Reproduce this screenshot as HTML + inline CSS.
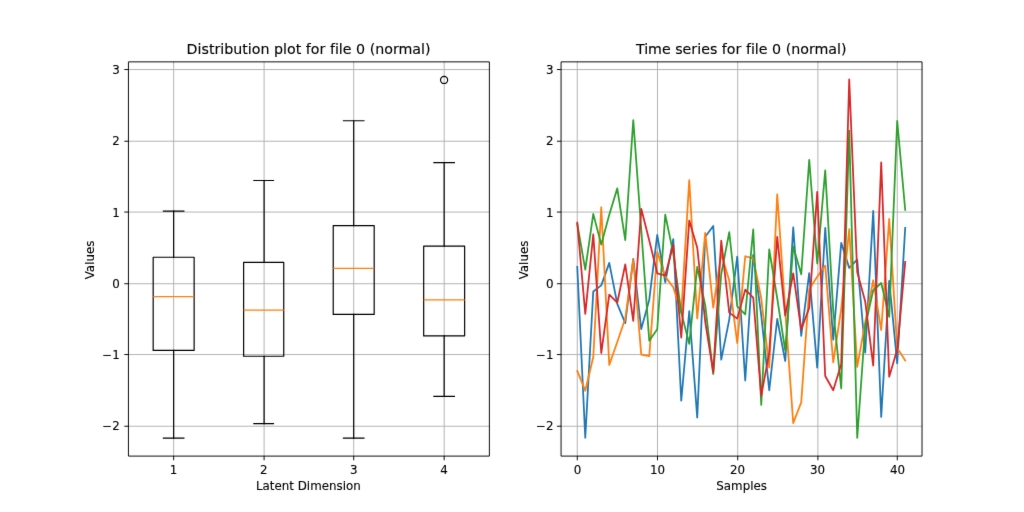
<!DOCTYPE html>
<html lang="en"><head><meta charset="utf-8"><title>Distribution plot and time series for file 0 (normal)</title>
<style>html,body{margin:0;padding:0;background:#ffffff;}body{width:1024px;height:512px;overflow:hidden;}svg{display:block;}text{stroke:#000;stroke-width:0.1px;font-variant-ligatures:none;font-feature-settings:'liga' 0,'clig' 0;white-space:pre;}</style>
</head><body>
<svg width="1024" height="512" viewBox="0 0 864 432" font-family="'DejaVu Sans','Liberation Sans',sans-serif" fill="#000000">
<filter id="soft" x="0" y="0" width="864" height="432" filterUnits="userSpaceOnUse" color-interpolation-filters="sRGB"><feConvolveMatrix order="3" kernelMatrix="0.00524 0.06192 0.00524 0.06192 0.73137 0.06192 0.00524 0.06192 0.00524" edgeMode="duplicate" preserveAlpha="true"/></filter>
<g filter="url(#soft)">
<rect x="0" y="0" width="864" height="432" fill="#ffffff"/>
<clipPath id="c1"><rect x="108" y="51.84" width="304.364" height="332.64"/></clipPath>
<clipPath id="c2"><rect x="473.236" y="51.84" width="304.364" height="332.64"/></clipPath>
<g fill="none" stroke="#b0b0b0" stroke-width="0.8" stroke-linecap="square">
<path d="M146.52 384.84L146.52 52.2"/>
<path d="M222.84 384.84L222.84 52.2"/>
<path d="M298.44 384.84L298.44 52.2"/>
<path d="M374.76 384.84L374.76 52.2"/>
<path d="M108.36 359.64L412.92 359.64"/>
<path d="M108.36 299.16L412.92 299.16"/>
<path d="M108.36 239.4L412.92 239.4"/>
<path d="M108.36 178.92L412.92 178.92"/>
<path d="M108.36 119.16L412.92 119.16"/>
<path d="M108.36 58.68L412.92 58.68"/>
</g>
<g clip-path="url(#c1)" fill="none" stroke="#000000" stroke-width="1" stroke-linecap="square" stroke-linejoin="round">
<path d="M129.24 295.56H163.8V217.08H129.24V295.56"/>
<path d="M146.52 295.56V369.72M146.52 217.08V178.2"/>
<path d="M137.88 369.72H155.16M137.88 178.2H155.16"/>
<path d="M129.24 250.2H163.8" stroke="#ff7f0e" stroke-linecap="butt"/>
<path d="M205.56 300.6H239.4V221.4H205.56V300.6"/>
<path d="M222.84 300.6V357.48M222.84 221.4V152.28"/>
<path d="M214.2 357.48H230.76M214.2 152.28H230.76"/>
<path d="M205.56 261.72H239.4" stroke="#ff7f0e" stroke-linecap="butt"/>
<path d="M281.16 265.32H315.72V190.44H281.16V265.32"/>
<path d="M298.44 265.32V369.72M298.44 190.44V101.88"/>
<path d="M289.8 369.72H307.08M289.8 101.88H307.08"/>
<path d="M281.16 226.44H315.72" stroke="#ff7f0e" stroke-linecap="butt"/>
<path d="M357.48 283.32H392.04V207.72H357.48V283.32"/>
<path d="M374.76 283.32V334.44M374.76 207.72V137.16"/>
<path d="M366.12 334.44H383.4M366.12 137.16H383.4"/>
<path d="M357.48 253.08H392.04" stroke="#ff7f0e" stroke-linecap="butt"/>
<circle cx="374.698" cy="67.46" r="3"/>
</g>
<g fill="none" stroke="#000000" stroke-width="0.8">
<path d="M146.52 384.84v3.5"/>
<path d="M222.84 384.84v3.5"/>
<path d="M298.44 384.84v3.5"/>
<path d="M374.76 384.84v3.5"/>
<path d="M108.36 359.64h-3.5"/>
<path d="M108.36 299.16h-3.5"/>
<path d="M108.36 239.4h-3.5"/>
<path d="M108.36 178.92h-3.5"/>
<path d="M108.36 119.16h-3.5"/>
<path d="M108.36 58.68h-3.5"/>
<path d="M108.36 52.2H412.92V384.84H108.36Z" stroke-linejoin="miter"/>
</g>
<text x="146.383" y="399.838" font-size="10" text-anchor="middle">1</text>
<text x="222.474" y="399.838" font-size="10" text-anchor="middle">2</text>
<text x="298.565" y="399.838" font-size="10" text-anchor="middle">3</text>
<text x="374.656" y="399.838" font-size="10" text-anchor="middle">4</text>
<text x="101" y="363.155" font-size="10" text-anchor="end">−2</text>
<text x="101" y="303" font-size="10" text-anchor="end">−1</text>
<text x="101" y="242.845" font-size="10" text-anchor="end">0</text>
<text x="101" y="182.69" font-size="10" text-anchor="end">1</text>
<text x="101" y="122.535" font-size="10" text-anchor="end">2</text>
<text x="101" y="62.38" font-size="10" text-anchor="end">3</text>
<text x="260.182" y="413.389" font-size="10" text-anchor="middle">Latent Dimension</text>
<text x="260.351" y="45.967" font-size="12" text-anchor="middle">Distribution plot for file 0 (normal)</text>
<text x="79.334" y="219.341" font-size="10" text-anchor="middle" transform="rotate(-90 79.334 219.341)">Values</text>
<g fill="none" stroke="#b0b0b0" stroke-width="0.8" stroke-linecap="square">
<path d="M487.08 384.84L487.08 52.2"/>
<path d="M554.76 384.84L554.76 52.2"/>
<path d="M622.44 384.84L622.44 52.2"/>
<path d="M690.12 384.84L690.12 52.2"/>
<path d="M757.08 384.84L757.08 52.2"/>
<path d="M473.4 359.64L777.96 359.64"/>
<path d="M473.4 299.16L777.96 299.16"/>
<path d="M473.4 239.4L777.96 239.4"/>
<path d="M473.4 178.92L777.96 178.92"/>
<path d="M473.4 119.16L777.96 119.16"/>
<path d="M473.4 58.68L777.96 58.68"/>
</g>
<g clip-path="url(#c2)" fill="none" stroke-width="1.5" stroke-linejoin="round" stroke-linecap="square">
<polyline points="487.071,225.228 493.82,369.36 500.568,245.982 507.317,240.808 514.066,221.799 520.814,256.449 527.563,272.691 534.312,218.371 541.06,277.623 547.809,252.839 554.557,198.098 561.306,238.222 568.055,201.708 574.803,338.079 581.552,262.585 588.301,352.336 595.049,199.722 601.798,190.699 608.547,303.49 615.295,269.683 622.044,216.446 628.793,321.055 635.541,215.062 642.29,266.074 649.038,329.297 655.787,269.141 662.536,304.633 669.284,191.902 676.033,283.398 682.782,230.522 689.53,310.227 696.279,192.323 703.028,286.707 709.776,204.836 716.525,226.01 723.273,219.153 730.022,297.595 736.771,178.006 743.519,351.735 750.268,236.898 757.017,306.618 763.765,192.263" stroke="#1f77b4"/>
<polyline points="487.071,312.995 493.82,329.658 500.568,301.264 507.317,174.878 514.066,307.881 520.814,288.572 527.563,268.781 534.312,218.972 541.06,299.159 547.809,300.482 554.557,212.415 561.306,233.409 568.055,242.433 574.803,263.908 581.552,152.019 588.301,268.6 595.049,196.414 601.798,259.517 608.547,214.039 615.295,236.718 622.044,289.474 628.793,216.205 635.541,218.07 642.29,251.636 649.038,310.227 655.787,163.99 662.536,261.863 669.284,356.968 676.033,339.463 682.782,243.816 689.53,233.59 696.279,224.085 703.028,305.836 709.776,260.539 716.525,193.406 723.273,309.626 730.022,272.089 736.771,236.477 743.519,278.466 750.268,184.684 757.017,293.504 763.765,304.152" stroke="#ff7f0e"/>
<polyline points="487.071,188.955 493.82,227.514 500.568,180.473 507.317,206.279 514.066,181.255 520.814,158.937 527.563,202.55 534.312,101.369 541.06,193.737 547.809,287.549 554.557,277.804 561.306,181.134 568.055,213.739 574.803,263.788 581.552,290.075 588.301,225.228 595.049,257.652 601.798,315.641 608.547,231.184 615.295,195.933 622.044,258.554 628.793,265.352 635.541,193.526 642.29,341.689 649.038,210.43 655.787,251.636 662.536,295.85 669.284,208.144 676.033,231.424 682.782,134.815 689.53,222.341 696.279,143.718 703.028,261.863 709.776,327.672 716.525,110.212 723.273,369.42 730.022,275.097 736.771,244.899 743.519,238.763 750.268,267.397 757.017,101.97 763.765,177.104" stroke="#2ca02c"/>
<polyline points="487.071,187.872 493.82,264.81 500.568,197.677 507.317,297.896 514.066,248.568 520.814,255.426 527.563,223.123 534.312,270.706 541.06,176.202 547.809,202.911 554.557,230.582 561.306,232.447 568.055,206.52 574.803,284.962 581.552,186.067 588.301,209.046 595.049,271.488 601.798,314.077 608.547,203.031 615.295,263.788 622.044,268.841 628.793,244.418 635.541,251.035 642.29,334.049 649.038,297.354 655.787,199.903 662.536,266.314 669.284,230.582 676.033,278.044 682.782,259.757 689.53,161.825 696.279,317.266 703.028,329.297 709.776,307.4 716.525,67.08 723.273,229.559 730.022,254.343 736.771,308.423 743.519,137.041 750.268,317.807 757.017,294.948 763.765,220.957" stroke="#d62728"/>
</g>
<g fill="none" stroke="#000000" stroke-width="0.8">
<path d="M487.08 384.84v3.5"/>
<path d="M554.76 384.84v3.5"/>
<path d="M622.44 384.84v3.5"/>
<path d="M690.12 384.84v3.5"/>
<path d="M757.08 384.84v3.5"/>
<path d="M473.4 359.64h-3.5"/>
<path d="M473.4 299.16h-3.5"/>
<path d="M473.4 239.4h-3.5"/>
<path d="M473.4 178.92h-3.5"/>
<path d="M473.4 119.16h-3.5"/>
<path d="M473.4 58.68h-3.5"/>
<path d="M473.4 52.2H777.96V384.84H473.4Z" stroke-linejoin="miter"/>
</g>
<text x="487.324" y="399.838" font-size="10" text-anchor="middle">0</text>
<text x="554.811" y="399.838" font-size="10" text-anchor="middle">10</text>
<text x="622.297" y="399.838" font-size="10" text-anchor="middle">20</text>
<text x="689.783" y="399.838" font-size="10" text-anchor="middle">30</text>
<text x="757.27" y="399.838" font-size="10" text-anchor="middle">40</text>
<text x="466.996" y="363.155" font-size="10" text-anchor="end">−2</text>
<text x="466.996" y="303" font-size="10" text-anchor="end">−1</text>
<text x="466.996" y="242.845" font-size="10" text-anchor="end">0</text>
<text x="466.996" y="182.69" font-size="10" text-anchor="end">1</text>
<text x="466.996" y="122.535" font-size="10" text-anchor="end">2</text>
<text x="466.996" y="62.38" font-size="10" text-anchor="end">3</text>
<text x="625.756" y="413.389" font-size="10" text-anchor="middle">Samples</text>
<text x="625.418" y="45.924" font-size="12" text-anchor="middle">Time series for file 0 (normal)</text>
<text x="445.161" y="219.341" font-size="10" text-anchor="middle" transform="rotate(-90 445.161 219.341)">Values</text>
</g>
</svg>
</body></html>
